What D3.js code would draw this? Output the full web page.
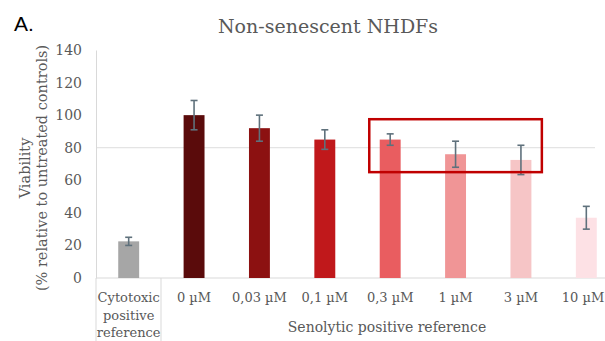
<!DOCTYPE html>
<html>
<head>
<meta charset="utf-8">
<script src="https://cdn.jsdelivr.net/npm/d3@7"></script>
<style>
  body { margin: 0; background: #fff; }
  text { font-family: "DejaVu Serif", "Liberation Serif", serif; fill: #595959; }
</style>
</head>
<body>
<div id="chart"></div>
<script>
// chart values
const categories = ["Cytotoxic", "0 µM", "0,03 µM", "0,1 µM", "0,3 µM", "1 µM", "3 µM", "10 µM"];
const viability = [22.5, 100, 92, 85, 85, 76, 72.5, 37];
const errors = [2.5, 9, 8, 6, 3.5, 8, 9, 7];
const colors = ["#a6a6a6", "#5a0b0b", "#8c1111", "#c0181b", "#e95d60", "#f09596", "#f6c5c6", "#fde1e5"];
const yTicks = [0, 20, 40, 60, 80, 100, 120, 140];
const cytoLines = ["Cytotoxic", "positive", "reference"];
const highlight = { from: "0,3 µM", to: "3 µM", top: 97.5, bottom: 65 };

const width = 605, height = 341;

const svg = d3.select("#chart").append("svg")
    .attr("width", width)
    .attr("height", height);

let x = d3.scaleBand()
    .domain(categories)
    .range([96, 619])
    .paddingInner(0.68)
    .paddingOuter(0.34);

let y = d3.scaleLinear()
    .domain([0, 140])
    .range([278, 50]);

// "A." panel letter
svg.append("text")
    .attr("x", 14).attr("y", 31)
    .style("font-family", "'Liberation Sans', Arial, sans-serif")
    .style("font-size", "21px")
    .style("fill", "#000")
    .text("A.");

// title
svg.append("text")
    .attr("x", 328).attr("y", 33)
    .attr("text-anchor", "middle")
    .style("font-size", "19px")
    .text("Non-senescent NHDFs");

// only the 80 line shows as a gridline
svg.append("line")
    .attr("x1", 96).attr("x2", 595)
    .attr("y1", y(80)).attr("y2", y(80))
    .attr("stroke", "#dedede");

// y axis
let yAxis = d3.axisLeft(y)
    .tickValues(yTicks)
    .tickSize(0)
    .tickPadding(14);

let gy = svg.append("g")
    .attr("transform", "translate(96,0)")
    .call(yAxis);
gy.select(".domain").attr("stroke", "#d9d9d9");
gy.selectAll("text").style("font-size", "14px").style("fill", "#595959")
    .style("font-family", "'DejaVu Serif', serif");

// x axis line + category separators
svg.append("line")
    .attr("x1", 96).attr("x2", 605)
    .attr("y1", 278).attr("y2", 278)
    .attr("stroke", "#d9d9d9");
[96, 161].forEach(px => {
  svg.append("line")
      .attr("x1", px).attr("x2", px)
      .attr("y1", 278).attr("y2", 341)
      .attr("stroke", "#d9d9d9");
});

// bars
svg.selectAll(".bar")
    .data(viability)
    .enter().append("rect")
    .attr("class", "bar")
    .attr("x", (d, i) => x(categories[i]))
    .attr("width", x.bandwidth())
    .attr("y", d => y(d))
    .attr("height", d => y(0) - y(d))
    .attr("fill", (d, i) => colors[i]);

// error bars
const errColor = "#5f717c";
viability.forEach((v, i) => {
  let cx = x(categories[i]) + x.bandwidth() / 2;
  let g = svg.append("g").attr("stroke", errColor).attr("stroke-width", 1.6);
  g.append("line").attr("x1", cx).attr("x2", cx)
      .attr("y1", y(v + errors[i])).attr("y2", y(v - errors[i]));
  [v + errors[i], v - errors[i]].forEach(e => {
    g.append("line").attr("x1", cx - 3.5).attr("x2", cx + 3.5)
        .attr("y1", y(e)).attr("y2", y(e));
  });
});

// highlight box
let bw = x.bandwidth();
svg.append("rect")
    .attr("x", x(highlight.from) - 0.5 * bw)
    .attr("y", y(highlight.top))
    .attr("width", x(highlight.to) + 1.5 * bw - (x(highlight.from) - 0.5 * bw))
    .attr("height", y(highlight.bottom) - y(highlight.top))
    .attr("fill", "none")
    .attr("stroke", "#c00000")
    .attr("stroke-width", 2.5);

// category labels
categories.forEach((c, i) => {
  let cx = x(c) + bw / 2;
  if (i === 0) {
    cytoLines.forEach((t, j) => {
      svg.append("text")
          .attr("x", cx).attr("y", 302 + j * 17.5)
          .attr("text-anchor", "middle")
          .style("font-size", "13px")
          .text(t);
    });
  } else {
    svg.append("text")
        .attr("x", Math.min(cx, 583)).attr("y", 302)
        .attr("text-anchor", "middle")
        .style("font-size", "13px")
        .text(c);
  }
});

svg.append("text")
    .attr("x", 387).attr("y", 332)
    .attr("text-anchor", "middle")
    .style("font-size", "14px")
    .text("Senolytic positive reference");

// y label
let yl = svg.append("text")
    .attr("transform", "translate(30,168) rotate(-90)")
    .attr("text-anchor", "middle")
    .style("font-size", "14.5px");
yl.append("tspan").attr("x", 0).attr("dy", 0).text("Viability");
yl.append("tspan").attr("x", 0).attr("dy", 17).text("(% relative to untreated controls)");
</script>
</body>
</html>
